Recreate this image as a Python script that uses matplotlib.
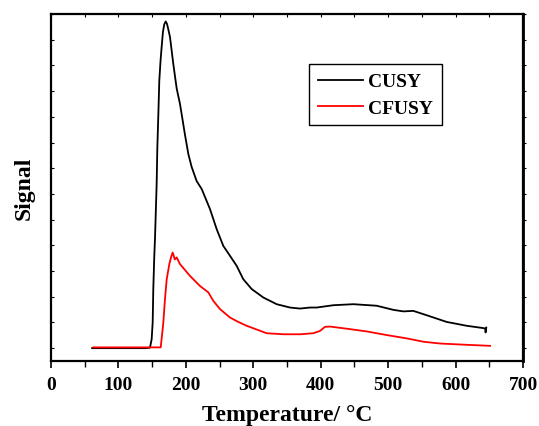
import matplotlib
matplotlib.use("Agg")
import matplotlib.pyplot as plt
from matplotlib.ticker import MultipleLocator

# Data (Temperature in °C, signal in arbitrary units)
cusy_T = [61, 100, 140, 146.8, 149.3, 150.8, 151.7, 153.2, 154.2, 156.7, 157.7, 159.2,
          160.6, 162.5, 164.2, 166.0, 168.0, 170.1, 172.0, 174.0, 176.5, 181.4, 186.4,
          191.3, 193.8, 198.7, 203.7, 208.6, 216.0, 223.5, 235.8, 245.7, 255.5, 265.5,
          275.4, 285.2, 297.6, 314.9, 334.7, 354.4, 369.3, 384.1, 394.0, 418.7, 448.4,
          483.0, 507.7, 522.5, 537.3, 557.2, 586.8, 616.5, 641.2, 644.0, 644.5, 645.5]
cusy_S = [0.0, 0.0, 0.0, 0.02, 0.35, 1.0, 2.3, 3.6, 4.24, 6.4, 7.8, 9.1,
          10.4, 11.2, 11.75, 12.3, 12.6, 12.71, 12.62, 12.4, 12.1, 11.05, 10.1,
          9.5, 9.1, 8.3, 7.55, 7.05, 6.5, 6.19, 5.41, 4.63, 3.98, 3.59,
          3.2, 2.68, 2.3, 1.97, 1.71, 1.58, 1.54, 1.58, 1.58, 1.67, 1.71,
          1.65, 1.49, 1.43, 1.45, 1.28, 1.02, 0.87, 0.78, 0.76, 0.61, 0.80]

cfusy_T = [62.8, 100, 140, 162.7, 166.6, 169.0, 171.6, 175.5, 178.0, 180.4, 182.0,
           183.5, 186.4, 191.3, 206.1, 220.9, 233.3, 240.7, 250.6, 265.5, 277.8, 290.2,
           319.9, 345.0, 369.3, 389.0, 398.9, 406.4, 413.8, 443.4, 468.2, 497.8,
           527.5, 552.2, 577.0, 616.5, 651.1]
cfusy_S = [0.03, 0.03, 0.03, 0.03, 1.0, 1.9, 2.68, 3.27, 3.53, 3.72, 3.6,
           3.45, 3.53, 3.27, 2.81, 2.42, 2.17, 1.84, 1.52, 1.19, 1.02, 0.87,
           0.58, 0.54, 0.54, 0.58, 0.67, 0.83, 0.84, 0.74, 0.65, 0.51,
           0.38, 0.25, 0.18, 0.13, 0.09]

series_labels = ["CUSY", "CFUSY"]
x_ticks = [0, 100, 200, 300, 400, 500, 600, 700]

plt.rcParams['font.family'] = ['Liberation Serif', 'DejaVu Serif']
plt.rcParams['font.weight'] = 'bold'

fig = plt.figure(figsize=(5.39, 4.27), dpi=100)
ax = fig.add_axes([51/539, 1-362/427, (523-51)/539, (362-15)/427])

ax.plot(cusy_T, cusy_S, color='black', lw=1.3, label=series_labels[0])
ax.plot(cfusy_T, cfusy_S, color='#ff0000', lw=1.3, label=series_labels[1])

ax.set_xlim(0, 700)
ax.set_ylim(-0.5, 13.0)
ax.set_xticks(x_ticks)
ax.set_xticklabels([str(t) for t in x_ticks], fontsize=14, fontweight='bold')
ax.xaxis.set_minor_locator(MultipleLocator(50))
ax.yaxis.set_major_locator(MultipleLocator(1))
ax.set_yticklabels([])

ax.tick_params(axis='x', which='major', direction='out', length=5, width=1.2, pad=6)
ax.tick_params(axis='x', which='minor', direction='out', length=4, width=1.0)
ax.tick_params(axis='y', which='major', direction='in', length=2, width=0.8,
               labelleft=False)

# top: tiny inward ticks every 50; right: tiny outward ticks
top = ax.secondary_xaxis('top')
top.xaxis.set_major_locator(MultipleLocator(50))
top.tick_params(direction='in', length=2, width=0.8, labeltop=False)
right = ax.secondary_yaxis('right')
right.yaxis.set_major_locator(MultipleLocator(1))
right.tick_params(direction='out', length=2, width=0.8, labelright=False)

for s in ax.spines.values():
    s.set_linewidth(1.6)
top.spines['top'].set_linewidth(1.4)
right.spines['right'].set_linewidth(2.0)

ax.set_xlabel("Temperature/ °C", fontsize=17, fontweight='bold', labelpad=8)
ax.set_ylabel("Signal", fontsize=17, fontweight='bold', labelpad=12)

leg = ax.legend(loc='upper left', bbox_to_anchor=(0.547, 0.856), frameon=True,
                fancybox=False, edgecolor='black', framealpha=1,
                prop={'family': 'Liberation Serif', 'weight': 'bold', 'size': 14},
                handlelength=2.3, handletextpad=0.3, borderpad=0.45, labelspacing=0.45,
                borderaxespad=0)
leg.get_frame().set_linewidth(1.0)

fig.savefig("out.png", dpi=100)
